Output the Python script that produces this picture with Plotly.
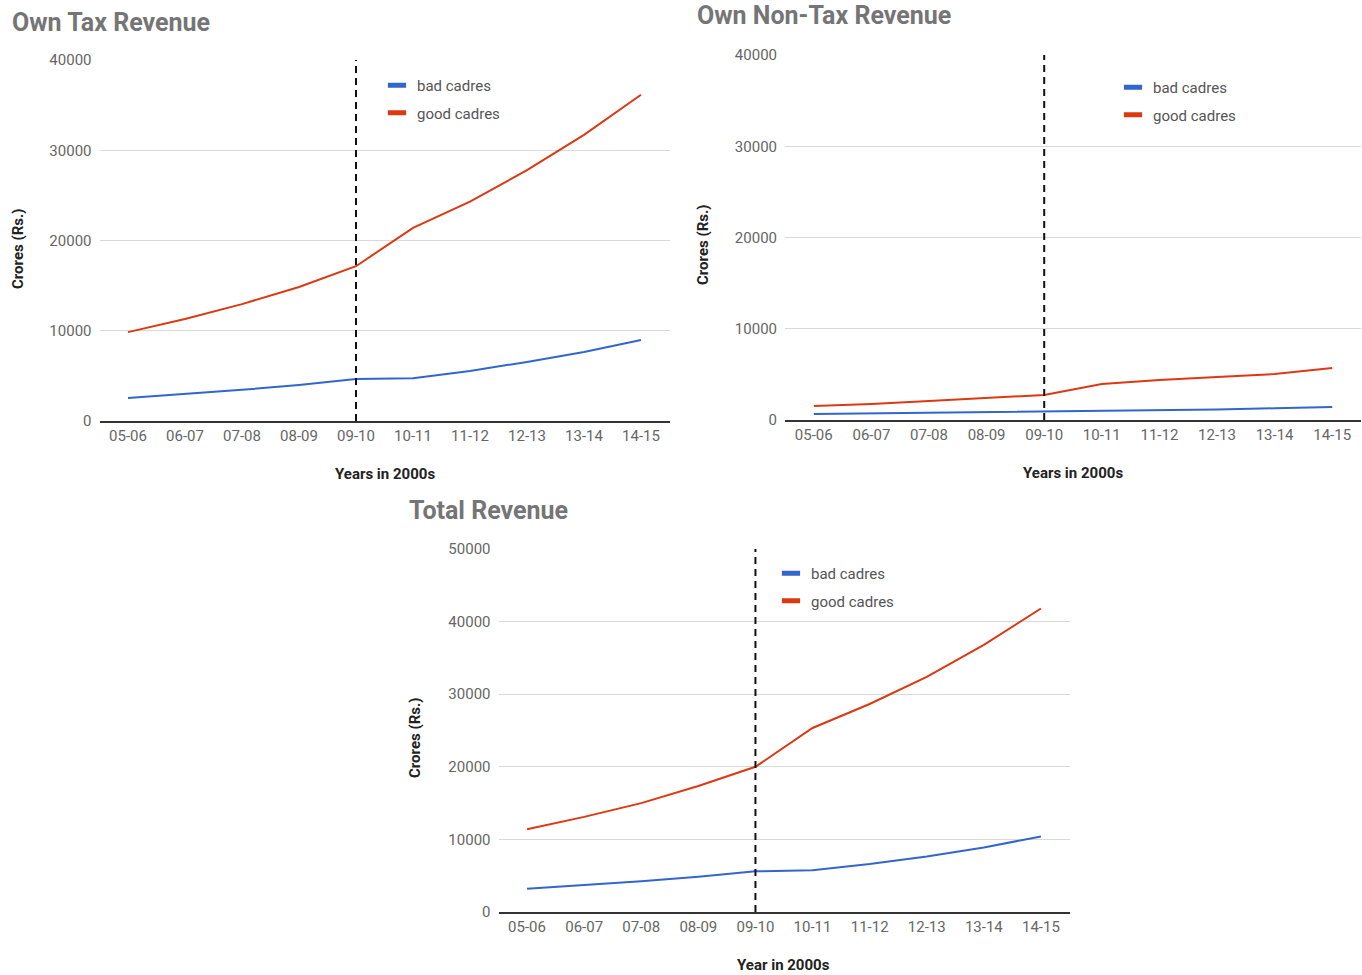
import plotly.graph_objects as go

years = ["05-06", "06-07", "07-08", "08-09", "09-10", "10-11", "11-12", "12-13", "13-14", "14-15"]
break_year = "09-10"

tax_bad = [2550, 3000, 3450, 4000, 4650, 4750, 5550, 6550, 7650, 8980]
tax_good = [9850, 11300, 12950, 14850, 17150, 21400, 24300, 27800, 31700, 36150]

nontax_bad = [650, 720, 790, 860, 940, 980, 1050, 1150, 1280, 1420]
nontax_good = [1530, 1750, 2080, 2410, 2740, 3950, 4380, 4710, 5040, 5700]

total_bad = [3200, 3700, 4250, 4850, 5600, 5750, 6600, 7650, 8900, 10400]
total_good = [11400, 13100, 15000, 17350, 20000, 25350, 28650, 32400, 36800, 41800]

series_names = ["bad cadres", "good cadres"]
colors = ["#3366cc", "#dc3912"]

W, H = 1362, 975

panels = [
    dict(title="Own Tax Revenue", xtitle="Years in 2000s", data=[tax_bad, tax_good], ymax=40000,
         box=(99.5, 669.5, 60, 421), title_pos=(10, 22), xt_pos=(385, 474), yt_pos=(18, 249),
         leg=(377, 69)),
    dict(title="Own Non-Tax Revenue", xtitle="Years in 2000s", data=[nontax_bad, nontax_good], ymax=40000,
         box=(785, 1361, 55, 420), title_pos=(695, 16), xt_pos=(1073, 473), yt_pos=(703, 245),
         leg=(1113, 71)),
    dict(title="Total Revenue", xtitle="Year in 2000s", data=[total_bad, total_good], ymax=50000,
         box=(498.5, 1069.5, 549, 912), title_pos=(407, 511), xt_pos=(783, 965), yt_pos=(415, 738),
         leg=(771, 557)),
]

fig = go.Figure()
annotations = []
shapes = []
layout_extra = {}

font_family = "Roboto, Arial, sans-serif"

for i, p in enumerate(panels):
    n = "" if i == 0 else str(i + 1)
    xa, ya = "x" + n, "y" + n
    leg = "legend" + n
    x0, x1, y0, y1 = p["box"]
    for k, (vals, name, col) in enumerate(zip(p["data"], series_names, colors)):
        fig.add_trace(go.Scatter(x=years, y=vals, mode="lines", name=name,
                                 line=dict(color=col, width=2), xaxis=xa, yaxis=ya,
                                 showlegend=False, hoverinfo="x+y+name"))
    for k, (name, col) in enumerate(zip(series_names, colors)):
        fig.add_trace(go.Scatter(x=[None], y=[None], mode="markers", name=name,
                                 marker=dict(symbol="line-ew", size=13, color=col,
                                             line=dict(color=col, width=5)),
                                 xaxis=xa, yaxis=ya, legend=leg, legendgroup=f"{i}-{k}",
                                 showlegend=True))
    layout_extra["xaxis" + n] = dict(
        domain=[x0 / W, x1 / W], anchor=ya, type="category", categoryorder="array",
        categoryarray=years, range=[-0.5, len(years) - 0.5], showgrid=False, automargin=False,
        showline=True, linecolor="#333333", linewidth=1.5, ticks="", ticklabelstandoff=0,
        tickfont=dict(family=font_family, size=15, color="#666666"), fixedrange=True)
    layout_extra["yaxis" + n] = dict(
        domain=[1 - y1 / H, 1 - y0 / H], anchor=xa, range=[0, p["ymax"]], automargin=False,
        dtick=10000, tickformat="d", showgrid=True, gridcolor="#d9d9d9", gridwidth=1,
        zeroline=False, showline=False, ticks="", ticklabelstandoff=7,
        tickfont=dict(family=font_family, size=15, color="#666666"), fixedrange=True)
    lx, ly = p["leg"]
    layout_extra[leg] = dict(
        x=lx / W, y=1 - ly / H, xanchor="left", yanchor="top", xref="paper", yref="paper",
        bgcolor="rgba(0,0,0,0)", traceorder="grouped", tracegroupgap=5,
        font=dict(family=font_family, size=15, color="#555555"))
    shapes.append(dict(type="line", xref=xa, yref=ya + " domain", x0=break_year, x1=break_year,
                       y0=0, y1=1, line=dict(color="#111111", width=2, dash="7px,5px")))
    tx, ty = p["title_pos"]
    annotations.append(dict(text="<b>" + p["title"] + "</b>", x=tx / W, y=1 - ty / H,
                            xref="paper", yref="paper", xanchor="left", yanchor="middle",
                            showarrow=False, font=dict(family=font_family, size=25, color="#757575")))
    xx, xy = p["xt_pos"]
    annotations.append(dict(text="<b>" + p["xtitle"] + "</b>", x=xx / W, y=1 - xy / H,
                            xref="paper", yref="paper", xanchor="center", yanchor="middle",
                            showarrow=False, font=dict(family=font_family, size=15, color="#222222")))
    yx, yy = p["yt_pos"]
    annotations.append(dict(text="<b>Crores (Rs.)</b>", x=yx / W, y=1 - yy / H, textangle=-90,
                            xref="paper", yref="paper", xanchor="center", yanchor="middle",
                            showarrow=False, font=dict(family=font_family, size=15, color="#222222")))

fig.update_layout(
    width=W, height=H, margin=dict(l=0, r=0, t=0, b=0, autoexpand=False), autosize=False,
    paper_bgcolor="white", plot_bgcolor="white",
    font=dict(family=font_family),
    annotations=annotations, shapes=shapes, **layout_extra)

fig.write_html("out.html", config={"responsive": False, "displayModeBar": False})

with open("out.html", "r", encoding="utf-8") as f:
    html = f.read()
html = html.replace("<head>", "<head><style>html,body{margin:0;padding:0;overflow:hidden;}</style>", 1)
with open("out.html", "w", encoding="utf-8") as f:
    f.write(html)
